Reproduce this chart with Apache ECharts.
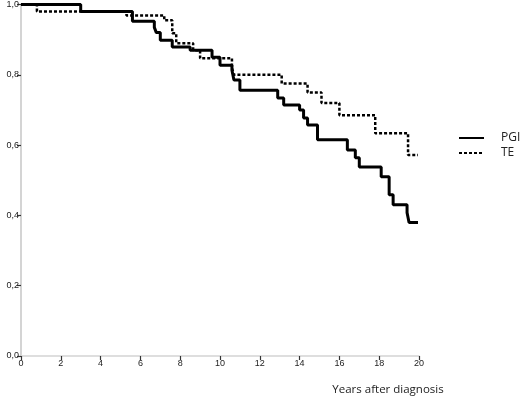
<!DOCTYPE html>
<html>
<head>
<meta charset="utf-8">
<script src="https://cdn.jsdelivr.net/npm/echarts@6/dist/echarts.min.js"></script>
<style>
  html, body { margin: 0; padding: 0; background: #fff; }
  #chart { width: 520px; height: 396px; }
</style>
</head>
<body>
<div id="chart"></div>
<script>
// Kaplan-Meier steps: time (years) where survival drops, survival after the drop
const pgiTimes    = [0, 3.0, 5.6, 6.7, 6.8, 7.0, 7.6, 8.5, 9.6, 10.0, 10.6, 10.7, 11.0, 12.9, 13.2, 14.0, 14.2, 14.4, 14.9, 16.4, 16.8, 17.0, 18.1, 18.5, 18.7, 19.4, 19.5, 19.95]
const pgiSurvival = [1.0, 0.98, 0.952, 0.935, 0.92, 0.898, 0.879, 0.87, 0.85, 0.827, 0.813, 0.785, 0.756, 0.734, 0.714, 0.70, 0.677, 0.657, 0.615, 0.586, 0.564, 0.538, 0.51, 0.459, 0.43, 0.408, 0.38, 0.38]

const teTimes    = [0, 0.8, 5.3, 7.2, 7.6, 7.8, 8.65, 9.0, 10.6, 10.7, 13.1, 14.4, 15.1, 16.0, 17.8, 19.45, 19.95]
const teSurvival = [1.0, 0.98, 0.969, 0.955, 0.918, 0.89, 0.87, 0.847, 0.82, 0.80, 0.775, 0.75, 0.72, 0.685, 0.634, 0.572, 0.572]

const xTicks = { min: 0, max: 20, interval: 2 }
const yTicks = { min: 0, max: 1, interval: 0.2 }

const toPairs = (ts, ss) => ts.map((t, i) => [t, ss[i]])

const chart = echarts.init(document.getElementById('chart'))

chart.setOption({
  animation: false,
  backgroundColor: '#fff',
  grid: { left: 21, right: 101, top: 4, bottom: 39 },
  legend: {
    orient: 'vertical',
    left: 458,
    top: 132,
    padding: 0,
    itemWidth: 25,
    itemHeight: 12,
    itemGap: 3,
    itemStyle: { opacity: 0 },
    textStyle: {
      fontFamily: 'Open Sans', fontSize: 12, color: '#222',
      padding: [0, 0, 0, 12], width: 40, overflow: 'none'
    },
    data: ['PGI', 'TE']
  },
  xAxis: {
    type: 'value',
    min: xTicks.min,
    max: xTicks.max,
    interval: xTicks.interval,
    splitLine: { show: false },
    axisLine: { lineStyle: { color: '#d4d4d4', width: 1.5 } },
    axisTick: { length: 4, lineStyle: { color: '#333', width: 1.2 } },
    axisLabel: { fontFamily: 'Liberation Sans', fontSize: 9, color: '#222', margin: 3 },
    name: 'Years after diagnosis',
    nameLocation: 'end',
    nameGap: -31,
    nameTextStyle: {
      fontFamily: 'Open Sans', fontSize: 11.5, color: '#222',
      align: 'center', verticalAlign: 'top', padding: [28, 0, 0, 0]
    }
  },
  yAxis: {
    type: 'value',
    min: yTicks.min,
    max: yTicks.max,
    interval: yTicks.interval,
    splitLine: { show: false },
    axisLine: { show: true, lineStyle: { color: '#d4d4d4', width: 2 } },
    axisTick: { show: true, length: 4, lineStyle: { color: '#333', width: 1.2 } },
    axisLabel: {
      fontFamily: 'Liberation Sans', fontSize: 9, color: '#222', margin: 2,
      formatter: v => v.toFixed(1).replace('.', ',')
    }
  },
  series: [
    {
      name: 'PGI',
      type: 'line',
      step: 'end',
      symbol: 'none',
      data: toPairs(pgiTimes, pgiSurvival),
      lineStyle: { color: '#000', width: 3 },
      itemStyle: { color: '#000' }
    },
    {
      name: 'TE',
      type: 'line',
      step: 'end',
      symbol: 'none',
      data: toPairs(teTimes, teSurvival),
      lineStyle: { color: '#000', width: 2.5, type: [3, 2] },
      itemStyle: { color: '#000' }
    }
  ]
})
</script>
</body>
</html>
